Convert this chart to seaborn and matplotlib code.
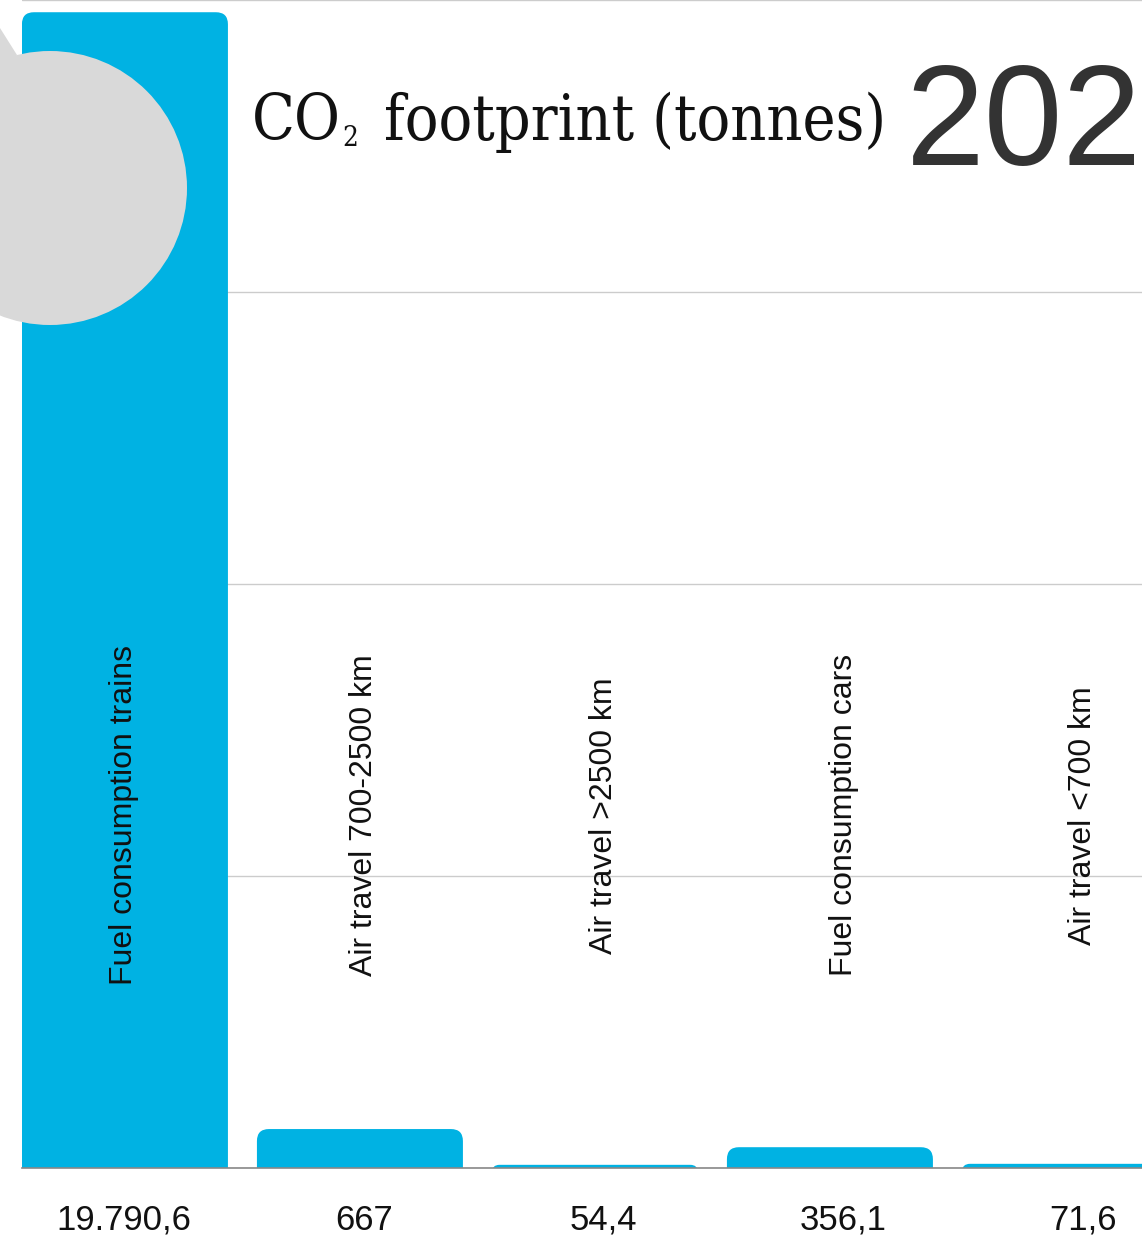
import matplotlib.pyplot as plt
import numpy as np
import pandas as pd
import seaborn as sns
from matplotlib.patches import Circle, FancyBboxPatch, Polygon
from matplotlib.transforms import blended_transform_factory

# data
categories = [
    "Fuel consumption trains",
    "Air travel 700-2500 km",
    "Air travel >2500 km",
    "Fuel consumption cars",
    "Air travel <700 km",
]
values = [19790.6, 667, 54.4, 356.1, 71.6]
value_labels = ["19.790,6", "667", "54,4", "356,1", "71,6"]
year_label = "2021"
title_main = "CO"
title_sub = "2"
title_rest = "footprint (tonnes)"

BAR_COLOR = "#00b2e3"
W, H = 1142, 1238

sns.set_theme(style="white")
plt.rcParams["font.family"] = ["Liberation Sans", "DejaVu Sans"]

df = pd.DataFrame({"category": categories, "value": values})

fig = plt.figure(figsize=(W / 100, H / 100), dpi=100)
ax = fig.add_axes([22 / W, 70 / H, 1 - 22 / W, 1168 / H])

sns.barplot(data=df, x="category", y="value", color=BAR_COLOR,
            width=206 / 235, saturation=1, ax=ax, zorder=2)

ax.set_xlim(-0.438, 4.328)
ax.set_ylim(0, 20000)
ax.set_yticks([0, 5000, 10000, 15000, 20000])
ax.yaxis.grid(True, color="#cccccc", linewidth=1, zorder=0)
ax.set_axisbelow(True)
for s in ["top", "right", "left"]:
    ax.spines[s].set_visible(False)
ax.spines["bottom"].set_color("#888888")
ax.spines["bottom"].set_linewidth(1.2)
ax.spines["bottom"].set_zorder(5)
ax.set_xlabel("")
ax.set_ylabel("")
ax.set_yticklabels([])
ax.set_xticks([])
ax.tick_params(left=False, bottom=False)

# rounded top corners: replace seaborn rectangles
px_per_x = 235.0
y_per_px = 20000 / 1168
aspect = y_per_px * px_per_x
r_px = 12
for p in list(ax.patches):
    x0, w, h = p.get_x(), p.get_width(), p.get_height()
    tot_px = h / y_per_px + r_px
    r = min(r_px, tot_px / 2) / px_per_x
    box = FancyBboxPatch((x0, -r_px * y_per_px), w, h + r_px * y_per_px,
                         boxstyle=f"round,pad=0,rounding_size={r}",
                         mutation_aspect=aspect, facecolor=BAR_COLOR,
                         edgecolor="none", zorder=2)
    p.remove()
    ax.add_patch(box)

# value labels below the axis, category names rotated in the plot
label_pos = np.arange(len(categories)) * 1.021 - 0.005
trans = blended_transform_factory(ax.transData, ax.transAxes)
for xp, name, lab in zip(label_pos, categories, value_labels):
    ax.text(xp, 0.302, name, rotation=90, ha="center", va="center",
            fontsize=23, color="#111111", transform=trans, zorder=3)
    ax.text(xp, -62 / 1168, lab, ha="center", va="baseline", fontsize=25,
            color="#111111", transform=trans, clip_on=False)

# decoration: grey circle and wedge top-left
fig.add_artist(Circle((50 / 100, (H - 188) / 100), 137 / 100,
                      transform=fig.dpi_scale_trans, facecolor="#d9d9d9",
                      edgecolor="none", zorder=3))
fig.add_artist(Polygon([(0, (H - 28) / 100), (0, (H - 70) / 100), (17 / 100, (H - 55) / 100)],
                       closed=True, transform=fig.dpi_scale_trans,
                       facecolor="#d9d9d9", edgecolor="none", zorder=3))

# title and year
serif = dict(family=["DejaVu Serif"], fontstretch="condensed", color="#111111",
             va="baseline", ha="left")
fig.text(252 / W, 1 - 140 / H, title_main, fontsize=45, **serif)
fig.text(342 / W, 1 - 146 / H, title_sub, fontsize=20, **serif)
fig.text(384 / W, 1 - 140 / H, title_rest, fontsize=45, **serif)
fig.text(906 / W, 1 - 165 / H, year_label, fontsize=102, color="#333333",
         ha="left", va="baseline")

fig.savefig("out.png", dpi=100)
